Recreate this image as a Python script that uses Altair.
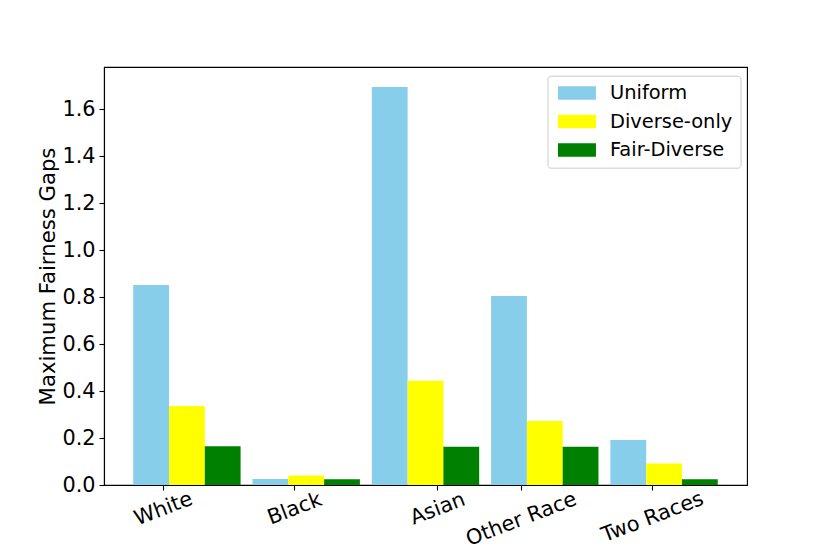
import altair as alt
import pandas as pd

# ---- data ----
categories = ["White", "Black", "Asian", "Other Race", "Two Races"]
series = ["Uniform", "Diverse-only", "Fair-Diverse"]
uniform = [0.851, 0.026, 1.694, 0.804, 0.191]
diverse_only = [0.336, 0.040, 0.444, 0.272, 0.091]
fair_diverse = [0.165, 0.024, 0.163, 0.163, 0.024]
tick_positions = [-0.2, 0.9, 2.1, 2.8, 3.9]
y_ticks = [0.0, 0.2, 0.4, 0.6, 0.8, 1.0, 1.2, 1.4, 1.6]
colors = ["#87CEEB", "#FFFF00", "#008000"]

FONT = "DejaVu Sans"
BAR_W = 0.3

rows = []
for j, (name, vals) in enumerate(zip(series, [uniform, diverse_only, fair_diverse])):
    for i, (cat, v) in enumerate(zip(categories, vals)):
        x0 = i + (j - 1.5) * BAR_W
        rows.append({"category": cat, "series": name, "value": v,
                     "x0": x0, "x1": x0 + BAR_W})
df = pd.DataFrame(rows)

# label text expression from tick positions
mids = [(a + b) / 2 for a, b in zip(tick_positions[:-1], tick_positions[1:])]
expr = f"'{categories[-1]}'"
for m, c in reversed(list(zip(mids, categories[:-1]))):
    expr = f"datum.value < {m} ? '{c}' : " + expr

# per-label vertical padding so each rotated label's top sits just under the axis
ANG = 21
conds = []
for k, c in enumerate(categories):
    w = 11.7 * len(c)
    pad = 0.179 * w + 8.1
    lo = mids[k - 1] if k > 0 else -99
    hi = mids[k] if k < len(mids) else 99
    conds.append({"test": f"datum.value >= {lo} && datum.value < {hi}", "value": pad})

x_axis = alt.Axis(values=tick_positions, labelExpr=expr, title=None,
                  labelAngle=-ANG, labelAlign="center", labelBaseline="middle",
                  labelPadding={"condition": conds, "value": 15},
                  labelFontSize=20.8, labelFont=FONT, labelColor="black",
                  tickSize=5, tickColor="black", tickWidth=1.1,
                  domainColor="black", domainWidth=1.1, grid=False,
                  labelOverlap=False, labelBound=False, labelFlush=False)

y_axis = alt.Axis(values=y_ticks, format=".1f", title="Maximum Fairness Gaps",
                  labelFontSize=20.8, labelFont=FONT, labelColor="black",
                  labelPadding=4, tickSize=5, tickColor="black", tickWidth=1.1,
                  domainColor="black", domainWidth=1.1, grid=False,
                  titleFont=FONT, titleFontSize=21.2, titleFontWeight="normal",
                  titleColor="black", titlePadding=3.5,
                  labelOverlap=False, labelFlush=False)

# swatch: 38 x 13.5 px rectangle, with symbol slot 13.5 px
SYM = 13.5
swatch = "M-1,-1L4.63,-1L4.63,1L-1,1Z"
legend = alt.Legend(orient="none", legendX=443.5, legendY=8.7, title=None,
                    symbolType=swatch, symbolSize=SYM * SYM,
                    symbolStrokeWidth=0, symbolOpacity=1,
                    labelFontSize=19.44, labelFont=FONT, labelColor="black",
                    labelOffset=35.5, padding=7.5, rowPadding=7.6,
                    strokeColor="#cccccc", fillColor="white", cornerRadius=3)

chart = alt.Chart(df).mark_bar(strokeWidth=0).encode(
    x=alt.X("x0:Q", scale=alt.Scale(domain=[-0.695, 4.695], nice=False, zero=False),
            axis=x_axis),
    x2="x1:Q",
    y=alt.Y("value:Q", scale=alt.Scale(domain=[0, 1.779], nice=False), axis=y_axis),
    y2=alt.datum(0),
    color=alt.Color("series:N", scale=alt.Scale(domain=series, range=colors),
                    legend=legend),
).properties(
    width=643, height=418,
    autosize=alt.AutoSizeParams(type="none"),
    padding={"left": 96, "top": 59, "right": 75, "bottom": 61},
    background="white",
).configure_view(stroke="black", strokeWidth=1.1)

chart.save("out.html", embed_options={"renderer": "svg", "actions": False})
